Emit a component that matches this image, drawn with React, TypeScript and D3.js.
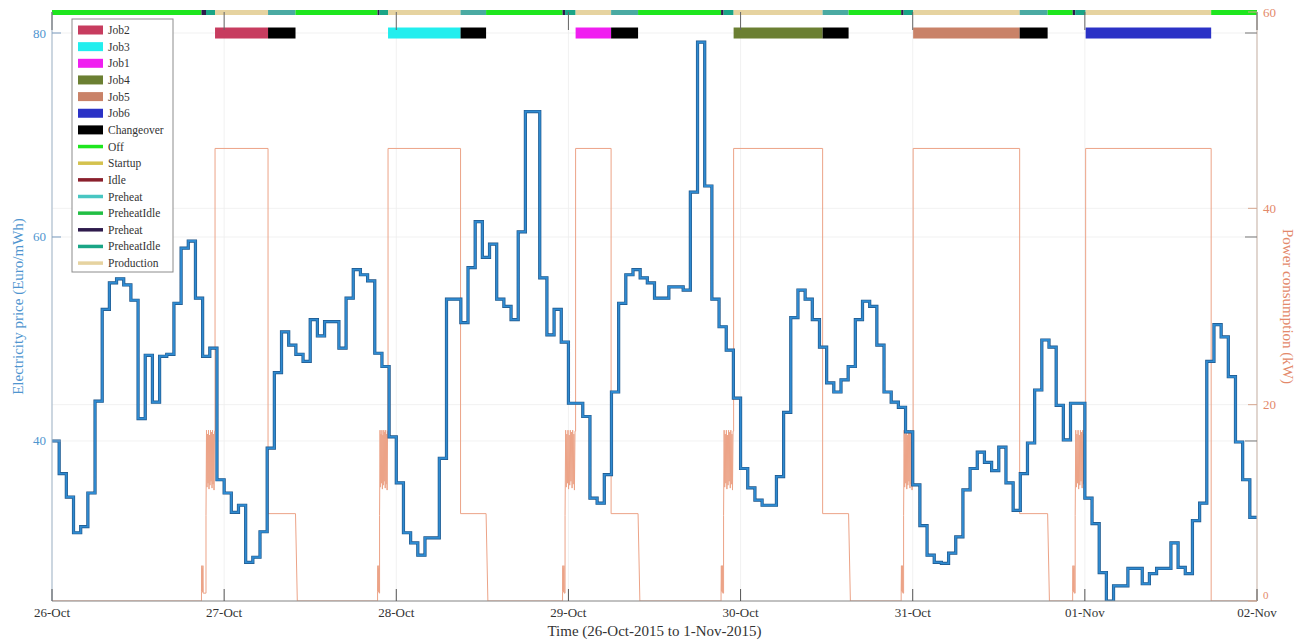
import React, { useEffect, useRef } from "react";
import * as d3 from "d3";

// hourly electricity price (Euro/mWh), one array per day, 26-Oct .. 1-Nov-2015
const priceDay1 = [40.0, 36.8, 34.5, 31.0, 31.6, 34.9, 43.9, 52.9, 55.5, 55.9, 55.3, 53.8, 42.2, 48.4, 43.8, 48.3, 48.5, 53.5, 58.9, 59.6, 54.0, 48.3, 49.1, 36.2];
const priceDay2 = [34.9, 33.0, 33.7, 28.1, 28.6, 31.1, 39.3, 46.7, 50.7, 49.4, 48.5, 47.8, 51.9, 50.3, 51.7, 51.7, 49.1, 54.0, 56.8, 56.3, 55.7, 48.6, 47.3, 40.4];
const priceDay3 = [35.9, 31.0, 30.0, 28.8, 30.5, 30.5, 38.3, 53.9, 53.9, 51.6, 57.0, 61.5, 58.0, 59.3, 53.9, 53.2, 51.9, 60.5, 72.3, 72.3, 56.0, 50.4, 52.9, 49.7];
const priceDay4 = [43.7, 43.7, 42.4, 34.4, 33.9, 36.7, 44.8, 53.5, 56.3, 56.8, 56.0, 55.5, 54.0, 54.0, 55.1, 55.1, 54.8, 64.4, 79.1, 65.0, 53.9, 51.2, 48.9, 44.2];
const priceDay5 = [37.3, 35.4, 34.2, 33.7, 33.7, 36.5, 42.8, 52.1, 54.8, 53.9, 51.9, 49.2, 45.7, 44.8, 46.0, 47.3, 51.9, 53.7, 53.2, 49.4, 44.8, 43.8, 43.3, 40.9];
const priceDay6 = [35.7, 31.7, 28.8, 28.1, 28.0, 29.0, 30.6, 35.2, 37.3, 38.9, 37.9, 37.1, 39.4, 35.9, 33.2, 36.8, 39.8, 45.0, 49.9, 49.2, 43.5, 40.1, 43.7, 43.7];
const priceDay7 = [34.4, 31.9, 27.1, 24.3, 25.8, 25.8, 27.5, 27.5, 26.0, 27.0, 27.5, 27.5, 30.0, 27.6, 27.0, 32.2, 33.9, 47.8, 51.4, 50.2, 46.3, 39.9, 36.2, 32.5];

const dayLabels = ["26-Oct", "27-Oct", "28-Oct", "29-Oct", "30-Oct", "31-Oct", "01-Nov", "02-Nov"];
const priceTicks = [40, 60, 80];
const powerTicks = [0, 20, 40, 60];

// production cycles, times in hours from 26-Oct 00:00
const cycleJobs = ["Job2", "Job3", "Job1", "Job4", "Job5", "Job6"];
const spikeHour = [20.84, 45.39, 71.18, 93.28, 118.39, 142.3];
const preheatStart = [21.47, 45.67, 71.53, 93.63, 118.73, 142.65];
const prodStart = [22.73, 46.85, 73.0, 95.03, 120.06, 144.11];
const prodEnd = [30.12, 56.96, 77.95, 107.44, 134.91, 161.61];
const changeoverEnd = [33.95, 60.52, 81.71, 111.06, 138.81, null];

// power levels (kW)
const productionKW = 46.1;
const changeoverKW = 8.9;
const waitKW = 0.8;
const spikeKW = [1.0, 3.6, 1.0, 3.3, 0.9, 3.6, 0.8];
const preheatKW = [8.7, 17.4, 11.6, 17.0, 12.0, 17.4, 11.4, 16.9, 11.8, 17.4, 12.2, 17.2, 11.5, 17.4, 11.9, 17.0, 11.3, 17.3];

const legendNames = ["Job2", "Job3", "Job1", "Job4", "Job5", "Job6", "Changeover", "Off", "Startup", "Idle", "Preheat", "PreheatIdle", "Preheat", "PreheatIdle", "Production"];
const legendColors = ["#c73c5f", "#22eeee", "#f01ef0", "#6b7f32", "#c98268", "#2b32c6", "#000000", "#1ee61e", "#d4c24e", "#8a1f2c", "#48c6c2", "#22bf44", "#2e1b4c", "#1aa586", "#e6d3a0"];

const jobColor: Record<string, string> = {};
cycleJobs.forEach((j) => { jobColor[j] = legendColors[legendNames.indexOf(j)]; });

const W = 1295, H = 640;
const X0 = 52, X1 = 1257, Y0 = 12, Y1 = 601;
const SERIF = "'Liberation Serif', 'DejaVu Serif', serif";

export default function App() {
  const ref = useRef<SVGSVGElement>(null);

  useEffect(() => {
    const svg = d3.select(ref.current);
    svg.selectAll("*").remove();

    const price = [...priceDay1, ...priceDay2, ...priceDay3, ...priceDay4, ...priceDay5, ...priceDay6, ...priceDay7];
    const nHours = price.length;

    const x = d3.scaleLinear().domain([0, nHours]).range([X0, X1]);
    const yP = d3.scaleLinear().domain([24.31, 82.06]).range([Y1, Y0]);
    const yW = d3.scaleLinear().domain([0, 60]).range([Y1, Y0]);

    svg.append("defs").append("clipPath").attr("id", "plotclip")
      .append("rect").attr("x", X0).attr("y", Y0).attr("width", X1 - X0).attr("height", Y1 - Y0);

    // faint grid
    const grid = svg.append("g").attr("stroke", "#eeeeee").attr("stroke-width", 0.8);
    dayLabels.forEach((_, i) => {
      grid.append("line").attr("x1", x(i * 24)).attr("x2", x(i * 24)).attr("y1", Y0).attr("y2", Y1);
    });
    priceTicks.forEach((v) => {
      grid.append("line").attr("x1", X0).attr("x2", X1).attr("y1", yP(v)).attr("y2", yP(v));
    });
    powerTicks.forEach((v) => {
      grid.append("line").attr("x1", X0).attr("x2", X1).attr("y1", yW(v)).attr("y2", yW(v));
    });

    // power consumption polyline
    const pw: [number, number][] = [[0, 0]];
    cycleJobs.forEach((_, i) => {
      pw.push([spikeHour[i], 0]);
      spikeKW.forEach((v, k) => pw.push([spikeHour[i] + k * 0.04, v]));
      pw.push([preheatStart[i], waitKW]);
      const dt = (prodStart[i] - preheatStart[i]) / preheatKW.length;
      preheatKW.forEach((v, k) => pw.push([preheatStart[i] + k * dt, v]));
      pw.push([prodStart[i], preheatKW[preheatKW.length - 1]]);
      pw.push([prodStart[i], productionKW]);
      pw.push([prodEnd[i], productionKW]);
      const ce = changeoverEnd[i];
      if (ce !== null) {
        pw.push([prodEnd[i], changeoverKW]);
        pw.push([ce, changeoverKW]);
        pw.push([ce + 0.25, 0]);
      } else {
        pw.push([prodEnd[i], 0]);
      }
    });
    pw.push([nHours, 0]);

    const plot = svg.append("g").attr("clip-path", "url(#plotclip)");
    plot.append("path")
      .datum(pw)
      .attr("fill", "none")
      .attr("stroke", "#eca387")
      .attr("stroke-width", 1)
      .attr("d", d3.line<[number, number]>().x((d) => x(d[0])).y((d) => yW(d[1])));

    // price step line
    const pp: [number, number][] = price.map((v, i) => [i, v]);
    pp.push([nHours, price[nHours - 1]]);
    const priceLine = d3.line<[number, number]>().x((d) => x(d[0])).y((d) => yP(d[1])).curve(d3.curveStepAfter);
    plot.append("path").datum(pp).attr("fill", "none").attr("stroke", "#1f5588")
      .attr("stroke-width", 3.2).attr("d", priceLine);
    plot.append("path").datum(pp).attr("fill", "none").attr("stroke", "#2f8ad0")
      .attr("stroke-width", 1.9).attr("d", priceLine);

    // machine state bar along the top
    const stateColor = (name: string, nth = 0) => {
      let idx = -1;
      for (let k = 0, c = 0; k < legendNames.length; k++) {
        if (legendNames[k] === name) { if (c === nth) { idx = k; break; } c++; }
      }
      return legendColors[idx];
    };
    const segs: { a: number; b: number; c: string }[] = [];
    let tPrev = 0;
    cycleJobs.forEach((_, i) => {
      segs.push({ a: tPrev, b: spikeHour[i], c: stateColor("Off") });
      segs.push({ a: spikeHour[i], b: preheatStart[i], c: stateColor("Preheat", 1) });
      segs.push({ a: preheatStart[i], b: prodStart[i], c: stateColor("PreheatIdle", 1) });
      segs.push({ a: prodStart[i], b: prodEnd[i], c: stateColor("Production") });
      const ce = changeoverEnd[i];
      if (ce !== null) {
        segs.push({ a: prodEnd[i], b: ce, c: "#4aaaa2" });
        tPrev = ce;
      } else {
        tPrev = prodEnd[i];
      }
    });
    segs.push({ a: tPrev, b: nHours, c: stateColor("Off") });
    svg.append("g").selectAll("line").data(segs).join("line")
      .attr("x1", (d) => x(d.a)).attr("x2", (d) => x(d.b))
      .attr("y1", yP(82.06) + 0.5).attr("y2", yP(82.06) + 0.5)
      .attr("stroke", (d) => d.c).attr("stroke-width", 5);

    // job / changeover bars
    const jobs = svg.append("g");
    cycleJobs.forEach((j, i) => {
      const yc = yP(80);
      jobs.append("rect").attr("x", x(prodStart[i])).attr("width", x(prodEnd[i]) - x(prodStart[i]))
        .attr("y", yc - 5.5).attr("height", 11).attr("fill", jobColor[j]);
      const ce = changeoverEnd[i];
      if (ce !== null) {
        jobs.append("rect").attr("x", x(prodEnd[i])).attr("width", x(ce) - x(prodEnd[i]))
          .attr("y", yc - 5.5).attr("height", 11).attr("fill", "#000");
      }
    });

    // axes frame
    const ax = svg.append("g");
    ax.append("line").attr("x1", X0).attr("x2", X1).attr("y1", Y1).attr("y2", Y1).attr("stroke", "#8a8a8a");
    ax.append("line").attr("x1", X0).attr("x2", X0).attr("y1", Y0).attr("y2", Y1).attr("stroke", "#9fb4c8");
    ax.append("line").attr("x1", X1).attr("x2", X1).attr("y1", Y0).attr("y2", Y1).attr("stroke", "#c9b3a6");

    // x ticks
    dayLabels.forEach((lab, i) => {
      const xx = x(i * 24);
      ax.append("line").attr("x1", xx).attr("x2", xx).attr("y1", Y1).attr("y2", Y1 - 12).attr("stroke", "#555");
      ax.append("line").attr("x1", xx).attr("x2", xx).attr("y1", Y0).attr("y2", Y0 + 18).attr("stroke", "#666");
      ax.append("text").attr("x", xx).attr("y", 617).attr("text-anchor", "middle")
        .attr("font-family", SERIF).attr("font-size", 13).attr("fill", "#333").text(lab);
    });

    // left axis
    priceTicks.forEach((v) => {
      const yy = yP(v);
      ax.append("line").attr("x1", X0).attr("x2", X0 + 9).attr("y1", yy).attr("y2", yy).attr("stroke", "#7a9cc0");
      ax.append("line").attr("x1", X1).attr("x2", X1 - 12).attr("y1", yy).attr("y2", yy).attr("stroke", "#777");
      ax.append("text").attr("x", X0 - 6).attr("y", yy + 4.5).attr("text-anchor", "end")
        .attr("font-family", SERIF).attr("font-size", 13).attr("fill", "#4f95cf").text(v);
    });
    // right axis
    powerTicks.forEach((v) => {
      const yy = yW(v);
      ax.append("line").attr("x1", X1).attr("x2", X1 - 9).attr("y1", yy).attr("y2", yy).attr("stroke", "#d8a890");
      ax.append("text").attr("x", X1 + 6).attr("y", v === 0 ? yy - 2 : yy + 4.5).attr("text-anchor", "start")
        .attr("font-family", SERIF).attr("font-size", v === 0 ? 11 : 13).attr("fill", "#e3896a").text(v);
    });

    // axis titles
    ax.append("text").attr("x", (X0 + X1) / 2).attr("y", 636).attr("text-anchor", "middle")
      .attr("font-family", SERIF).attr("font-size", 15).attr("fill", "#333")
      .text("Time (26-Oct-2015 to 1-Nov-2015)");
    ax.append("text").attr("transform", `translate(23,${(Y0 + Y1) / 2}) rotate(-90)`).attr("text-anchor", "middle")
      .attr("font-family", SERIF).attr("font-size", 15).attr("fill", "#4f95cf")
      .text("Electricity price (Euro/mWh)");
    ax.append("text").attr("transform", `translate(1283,${(Y0 + Y1) / 2}) rotate(90)`).attr("text-anchor", "middle")
      .attr("font-family", SERIF).attr("font-size", 15).attr("fill", "#e3896a")
      .text("Power consumption (kW)");

    // legend
    const lg = svg.append("g").attr("transform", "translate(72,19)");
    lg.append("rect").attr("width", 101).attr("height", 253).attr("fill", "#fff").attr("stroke", "#8c8c8c").attr("stroke-width", 1);
    legendNames.forEach((name, i) => {
      const yy = 11 + i * 16.65;
      if (i < 7) {
        lg.append("rect").attr("x", 6).attr("y", yy - 4.5).attr("width", 25).attr("height", 9).attr("fill", legendColors[i]);
      } else {
        lg.append("line").attr("x1", 6).attr("x2", 31).attr("y1", yy).attr("y2", yy)
          .attr("stroke", legendColors[i]).attr("stroke-width", 3.5);
      }
      lg.append("text").attr("x", 36).attr("y", yy + 4).attr("font-family", SERIF).attr("font-size", 11.5)
        .attr("fill", "#333").text(name);
    });
  }, []);

  return (
    <svg ref={ref} width={W} height={H}
      style={{ position: "absolute", left: 0, top: 0, background: "#fff" }} />
  );
}
